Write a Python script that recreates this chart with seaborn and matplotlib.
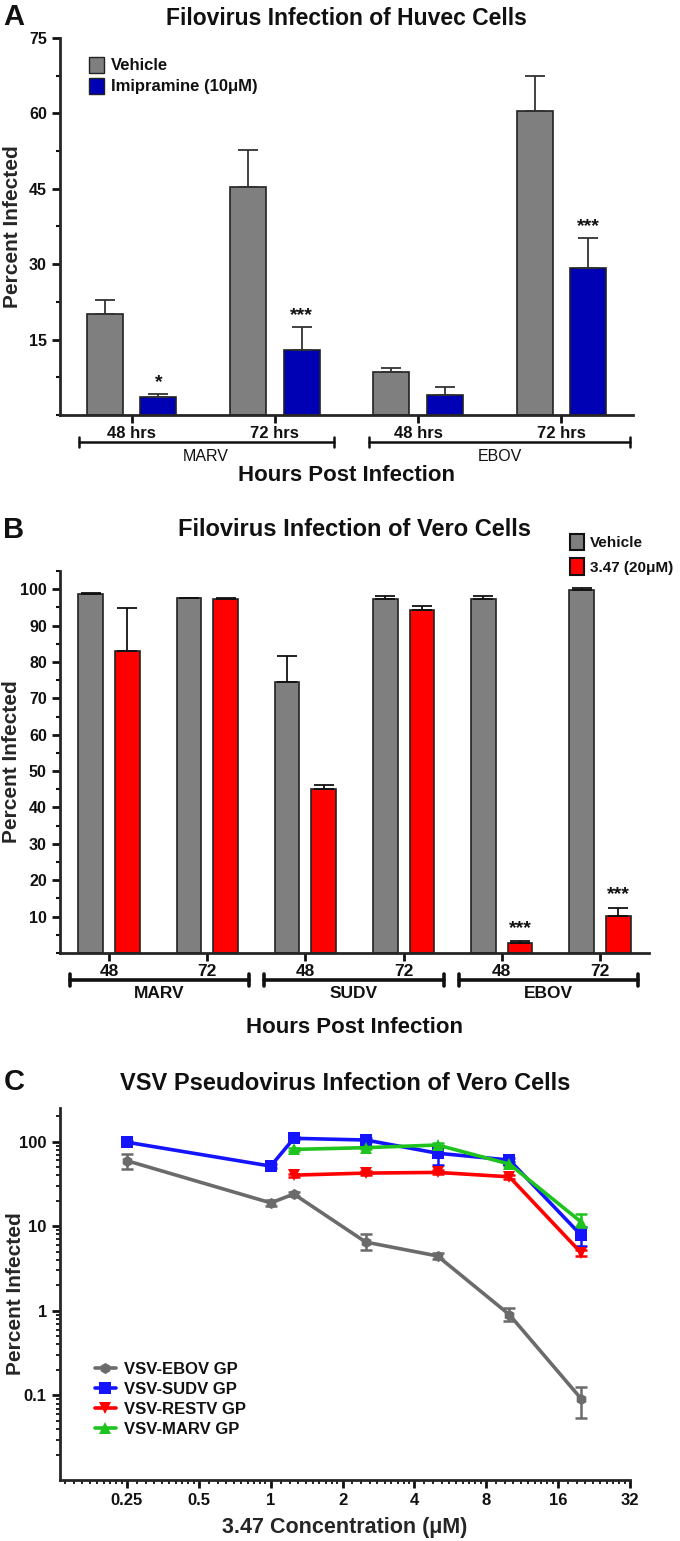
import numpy as np
import pandas as pd
import matplotlib
matplotlib.use("Agg")
import matplotlib.pyplot as plt
import matplotlib.ticker as mticker
from matplotlib.transforms import blended_transform_factory
from matplotlib.patches import Patch
import seaborn as sns

# ---------------- data ----------------
# Panel A
a_groups = ["MARV 48", "MARV 72", "EBOV 48", "EBOV 72"]
a_ticklabels = ["48 hrs", "72 hrs", "48 hrs", "72 hrs"]
a_vehicle = [20.0, 45.3, 8.5, 60.5]
a_vehicle_err = [2.8, 7.5, 0.8, 7.0]
a_imip = [3.5, 13.0, 4.0, 29.2]
a_imip_err = [0.6, 4.5, 1.5, 6.0]
a_stars = ["*", "***", "", "***"]
a_treat = ["Vehicle", "Imipramine (10\u03bcM)"]

# Panel B
b_groups = ["MARV 48", "MARV 72", "SUDV 48", "SUDV 72", "EBOV 48", "EBOV 72"]
b_ticklabels = ["48", "72", "48", "72", "48", "72"]
b_vehicle = [98.7, 97.5, 74.6, 97.3, 97.3, 99.9]
b_vehicle_err = [0.3, 0.2, 6.9, 0.7, 0.7, 0.3]
b_drug = [83.0, 97.3, 45.0, 94.2, 2.8, 10.2]
b_drug_err = [11.7, 0.2, 1.3, 1.1, 0.4, 2.3]
b_stars = ["", "", "", "", "***", "***"]
b_treat = ["Vehicle", "3.47 (20\u03bcM)"]

# Panel C
c_series = ["VSV-EBOV GP", "VSV-SUDV GP", "VSV-RESTV GP", "VSV-MARV GP"]
ebov_x = [0.25, 1.0, 1.25, 2.5, 5.0, 10.0, 20.0]
ebov_y = [59.5, 18.9, 24.0, 6.5, 4.45, 0.9, 0.091]
ebov_lo = [47.0, 17.5, 22.5, 5.3, 4.1, 0.75, 0.054]
ebov_hi = [72.0, 20.3, 25.5, 8.2, 4.8, 1.07, 0.125]
sudv_x = [0.25, 1.0, 1.25, 2.5, 5.0, 10.0, 20.0]
sudv_y = [98.5, 51.4, 109.5, 104.6, 73.0, 60.6, 7.8]
sudv_lo = [96.0, 49.0, 104.0, 98.0, 53.0, 57.0, 5.8]
sudv_hi = [101.0, 54.0, 115.0, 111.0, 88.0, 64.0, 9.8]
restv_x = [1.25, 2.5, 5.0, 10.0, 20.0]
restv_y = [40.2, 42.5, 43.3, 38.4, 4.83]
restv_lo = [38.5, 40.5, 41.0, 36.5, 4.5]
restv_hi = [42.0, 44.5, 46.0, 40.5, 5.2]
marv_x = [1.25, 2.5, 5.0, 10.0, 20.0]
marv_y = [81.0, 84.9, 91.3, 54.3, 11.2]
marv_lo = [77.0, 81.0, 86.0, 51.0, 9.8]
marv_hi = [85.0, 89.0, 96.0, 58.0, 13.8]
c_xticks = [0.25, 0.5, 1, 2, 4, 8, 16, 32]
c_xticklabels = ["0.25", "0.5", "1", "2", "4", "8", "16", "32"]

# ---------------- style ----------------
sns.set_theme(style="ticks")
FAM = ["Liberation Sans", "DejaVu Sans"]
plt.rcParams["font.family"] = FAM
plt.rcParams["font.weight"] = "bold"
plt.rcParams["axes.labelweight"] = "bold"
plt.rcParams["axes.linewidth"] = 2.0
plt.rcParams["xtick.major.width"] = 2.0
plt.rcParams["ytick.major.width"] = 2.0
plt.rcParams["xtick.minor.width"] = 1.5
plt.rcParams["ytick.minor.width"] = 1.5
plt.rcParams["xtick.color"] = "#111111"
plt.rcParams["ytick.color"] = "#111111"
plt.rcParams["text.color"] = "#111111"

GRAY = "#7f7f7f"
BLUE = "#0000b4"
RED = "#ff0000"
GREEN = "#1ec31e"

fig = plt.figure(figsize=(6.8, 15.41), dpi=100)
W, H = 680.0, 1541.0


def axrect(l, r, t, b):
    return [l / W, 1 - b / H, (r - l) / W, (b - t) / H]


axA = fig.add_axes(axrect(60, 633, 38, 415))
axB = fig.add_axes(axrect(60, 649, 571, 953))
axC = fig.add_axes(axrect(60, 630, 1108, 1480))


def bar_panel(ax, groups, veh, veh_err, drug, drug_err, treat, colors, stars,
              star_pad, err_color):
    df = pd.DataFrame({
        "group": groups * 2,
        "value": veh + drug,
        "treat": [treat[0]] * len(groups) + [treat[1]] * len(groups),
    })
    sns.barplot(data=df, x="group", y="value", hue="treat", order=groups,
                hue_order=treat, palette=colors, width=0.75, gap=0.33,
                edgecolor="#222222", linewidth=1.2, errorbar=None,
                saturation=1, ax=ax, legend=False)
    bars = sorted([p for p in ax.patches if p.get_width() > 0],
                  key=lambda p: p.get_x())
    errs = []
    for i in range(len(groups)):
        errs += [veh_err[i], drug_err[i]]
    starlist = []
    for s in stars:
        starlist += ["", s]
    for p, e, s in zip(bars, errs, starlist):
        xc = p.get_x() + p.get_width() / 2
        h = p.get_height()
        ax.errorbar([xc], [h], yerr=[[0], [e]], fmt="none",
                    ecolor=err_color, elinewidth=1.3, capsize=7,
                    capthick=1.3)
        if s:
            ax.text(xc, h + e + star_pad, s, ha="center", va="bottom",
                    fontsize=14, fontweight="bold")
    return bars


def place_ylabel(ax, right_px, left_px_axes, width_px):
    # ylabel anchor is the right edge of the rotated text
    ax.yaxis.set_label_coords((right_px - left_px_axes) / width_px, 0.5)


# ---------------- Panel A ----------------
bar_panel(axA, a_groups, a_vehicle, a_vehicle_err, a_imip, a_imip_err,
          a_treat, [GRAY, BLUE], a_stars, 0.6, "#333333")
axA.set_xlim(-0.5, 3.5)
axA.set_ylim(0, 75)
axA.set_yticks([15, 30, 45, 60, 75])
axA.yaxis.set_minor_locator(mticker.MultipleLocator(7.5))
axA.set_xticks(range(4))
axA.set_xticklabels(a_ticklabels, fontsize=12, fontweight="bold")
axA.tick_params(axis="y", labelsize=11.5, length=6, width=2)
axA.tick_params(axis="y", which="minor", length=3)
axA.tick_params(axis="x", length=6, pad=2)
axA.set_xlabel("")
axA.set_ylabel("Percent Infected", fontsize=15, fontweight="bold")
place_ylabel(axA, 22, 60, 573)
axA.set_title("Filovirus Infection of Huvec Cells", fontsize=16.5,
              fontweight="bold", pad=9)
sns.despine(ax=axA)

hA = [Patch(facecolor=GRAY, edgecolor="#222222", linewidth=1.0),
      Patch(facecolor=BLUE, edgecolor="#222222", linewidth=1.0)]
axA.legend(hA, a_treat, loc="upper left", bbox_to_anchor=(0.025, 0.99),
           frameon=False, handlelength=0.9, handleheight=1.1,
           handletextpad=0.4, labelspacing=0.25,
           prop={"weight": "bold", "size": 12, "family": FAM})

trA = blended_transform_factory(axA.transData, axA.transAxes)
for x0, x1, lab in [(-0.37, 1.41, "MARV"), (1.66, 3.48, "EBOV")]:
    axA.plot([x0, x1], [-0.072, -0.072], color="#111111", lw=1.8,
             transform=trA, clip_on=False)
    for xx in (x0, x1):
        axA.plot([xx, xx], [-0.086, -0.058], color="#111111", lw=1.8,
                 transform=trA, clip_on=False)
    axA.text((x0 + x1) / 2, -0.11, lab, transform=trA, ha="center",
             va="center", fontsize=11.5, fontweight="normal")
axA.text(0.5, -0.16, "Hours Post Infection", transform=axA.transAxes,
         ha="center", va="center", fontsize=16, fontweight="bold")

# ---------------- Panel B ----------------
bar_panel(axB, b_groups, b_vehicle, b_vehicle_err, b_drug, b_drug_err,
          b_treat, [GRAY, RED], b_stars, 1.2, "#111111")
axB.set_xlim(-0.5, 5.5)
axB.set_ylim(0, 105)
axB.set_yticks(range(10, 101, 10))
axB.yaxis.set_minor_locator(mticker.MultipleLocator(5))
axB.set_xticks(range(6))
axB.set_xticklabels(b_ticklabels, fontsize=12.5, fontweight="bold")
axB.tick_params(axis="y", labelsize=11.5, length=6, width=2)
axB.tick_params(axis="y", which="minor", length=3)
axB.tick_params(axis="x", length=6, pad=2)
axB.set_xlabel("")
axB.set_ylabel("Percent Infected", fontsize=15, fontweight="bold")
place_ylabel(axB, 21, 60, 589)
sns.despine(ax=axB)
fig.text(355 / W, 1 - 530 / H, "Filovirus Infection of Vero Cells",
         ha="center", va="center", fontsize=17, fontweight="bold")
hB = [Patch(facecolor=GRAY, edgecolor="#111111", linewidth=1.5),
      Patch(facecolor=RED, edgecolor="#111111", linewidth=1.5)]
fig.legend(hB, b_treat, loc="upper left", bbox_to_anchor=(556 / W, 1 - 520 / H),
           frameon=False, handlelength=0.9, handleheight=1.25,
           handletextpad=0.4, labelspacing=0.55,
           prop={"weight": "bold", "size": 11, "family": FAM})

trB = blended_transform_factory(axB.transData, axB.transAxes)
for x0, x1, lab in [(-0.4, 1.43, "MARV"), (1.58, 3.41, "SUDV"),
                    (3.56, 5.39, "EBOV")]:
    axB.plot([x0, x1], [-0.071, -0.071], color="#111111", lw=2.6,
             transform=trB, clip_on=False)
    for xx in (x0, x1):
        axB.plot([xx, xx], [-0.086, -0.056], color="#111111", lw=2.6,
                 transform=trB, clip_on=False)
    axB.text((x0 + x1) / 2, -0.105, lab, transform=trB, ha="center",
             va="center", fontsize=12.5, fontweight="bold")
axB.text(0.5, -0.195, "Hours Post Infection", transform=axB.transAxes,
         ha="center", va="center", fontsize=16, fontweight="bold")

# ---------------- Panel C ----------------
rows = []
series_data = [
    (c_series[0], ebov_x, ebov_y, ebov_lo, ebov_hi),
    (c_series[1], sudv_x, sudv_y, sudv_lo, sudv_hi),
    (c_series[2], restv_x, restv_y, restv_lo, restv_hi),
    (c_series[3], marv_x, marv_y, marv_lo, marv_hi),
]
for name, xs, ys, lo, hi in series_data:
    for x, y in zip(xs, ys):
        rows.append({"series": name, "conc": x, "pct": y})
dfC = pd.DataFrame(rows)
c_colors = {c_series[0]: "#6b6b6b", c_series[1]: "#1414ff",
            c_series[2]: RED, c_series[3]: GREEN}
c_markers = {c_series[0]: "h", c_series[1]: "s", c_series[2]: "v",
             c_series[3]: "^"}
axC.set_xscale("log", base=2)
axC.set_yscale("log")
sns.lineplot(data=dfC, x="conc", y="pct", hue="series", style="series",
             hue_order=c_series, style_order=c_series, palette=c_colors,
             markers=c_markers, dashes=False, linewidth=2.6, markersize=8,
             markeredgewidth=0, errorbar=None, ax=axC)
for name, xs, ys, lo, hi in series_data:
    ys_a = np.array(ys)
    yerr = [ys_a - np.array(lo), np.array(hi) - ys_a]
    axC.errorbar(xs, ys, yerr=yerr, fmt="none", ecolor=c_colors[name],
                 elinewidth=1.8, capsize=4, capthick=1.8, zorder=1)

axC.set_xlim(0.131, 32)
axC.set_ylim(0.01, 250)
axC.set_xticks(c_xticks)
axC.set_xticklabels(c_xticklabels)
axC.xaxis.set_minor_locator(mticker.LogLocator(base=2, subs=np.arange(1.1, 2.0, 0.1), numticks=40))
axC.xaxis.set_minor_formatter(mticker.NullFormatter())
axC.set_yticks([0.1, 1, 10, 100])
axC.set_yticklabels(["0.1", "1", "10", "100"])
axC.yaxis.set_minor_locator(mticker.LogLocator(base=10, subs=np.arange(2, 10), numticks=20))
axC.yaxis.set_minor_formatter(mticker.NullFormatter())
axC.tick_params(axis="both", which="major", labelsize=12, length=6, width=2)
axC.tick_params(axis="both", which="minor", length=3, width=1.3)
axC.set_xlabel("3.47 Concentration (\u03bcM)", fontsize=15.5, fontweight="bold",
               labelpad=6)
axC.set_ylabel("Percent Infected", fontsize=15, fontweight="bold")
place_ylabel(axC, 25, 60, 570)
axC.set_title("VSV Pseudovirus Infection of Vero Cells", fontsize=17,
              fontweight="bold", pad=13)
sns.despine(ax=axC)
leg = axC.legend(loc="lower left", bbox_to_anchor=(0.035, 0.075), frameon=False,
                 handlelength=1.25, handletextpad=0.5, labelspacing=0.3,
                 prop={"size": 12, "family": FAM})
leg.set_title(None)

# panel letters
for lab, y in [("A", 17), ("B", 530), ("C", 1082)]:
    fig.text(14 / W, 1 - y / H, lab, ha="center", va="center", fontsize=21,
             fontweight="bold", family=["Liberation Sans", "DejaVu Sans"])

fig.savefig("out.png", dpi=100)
